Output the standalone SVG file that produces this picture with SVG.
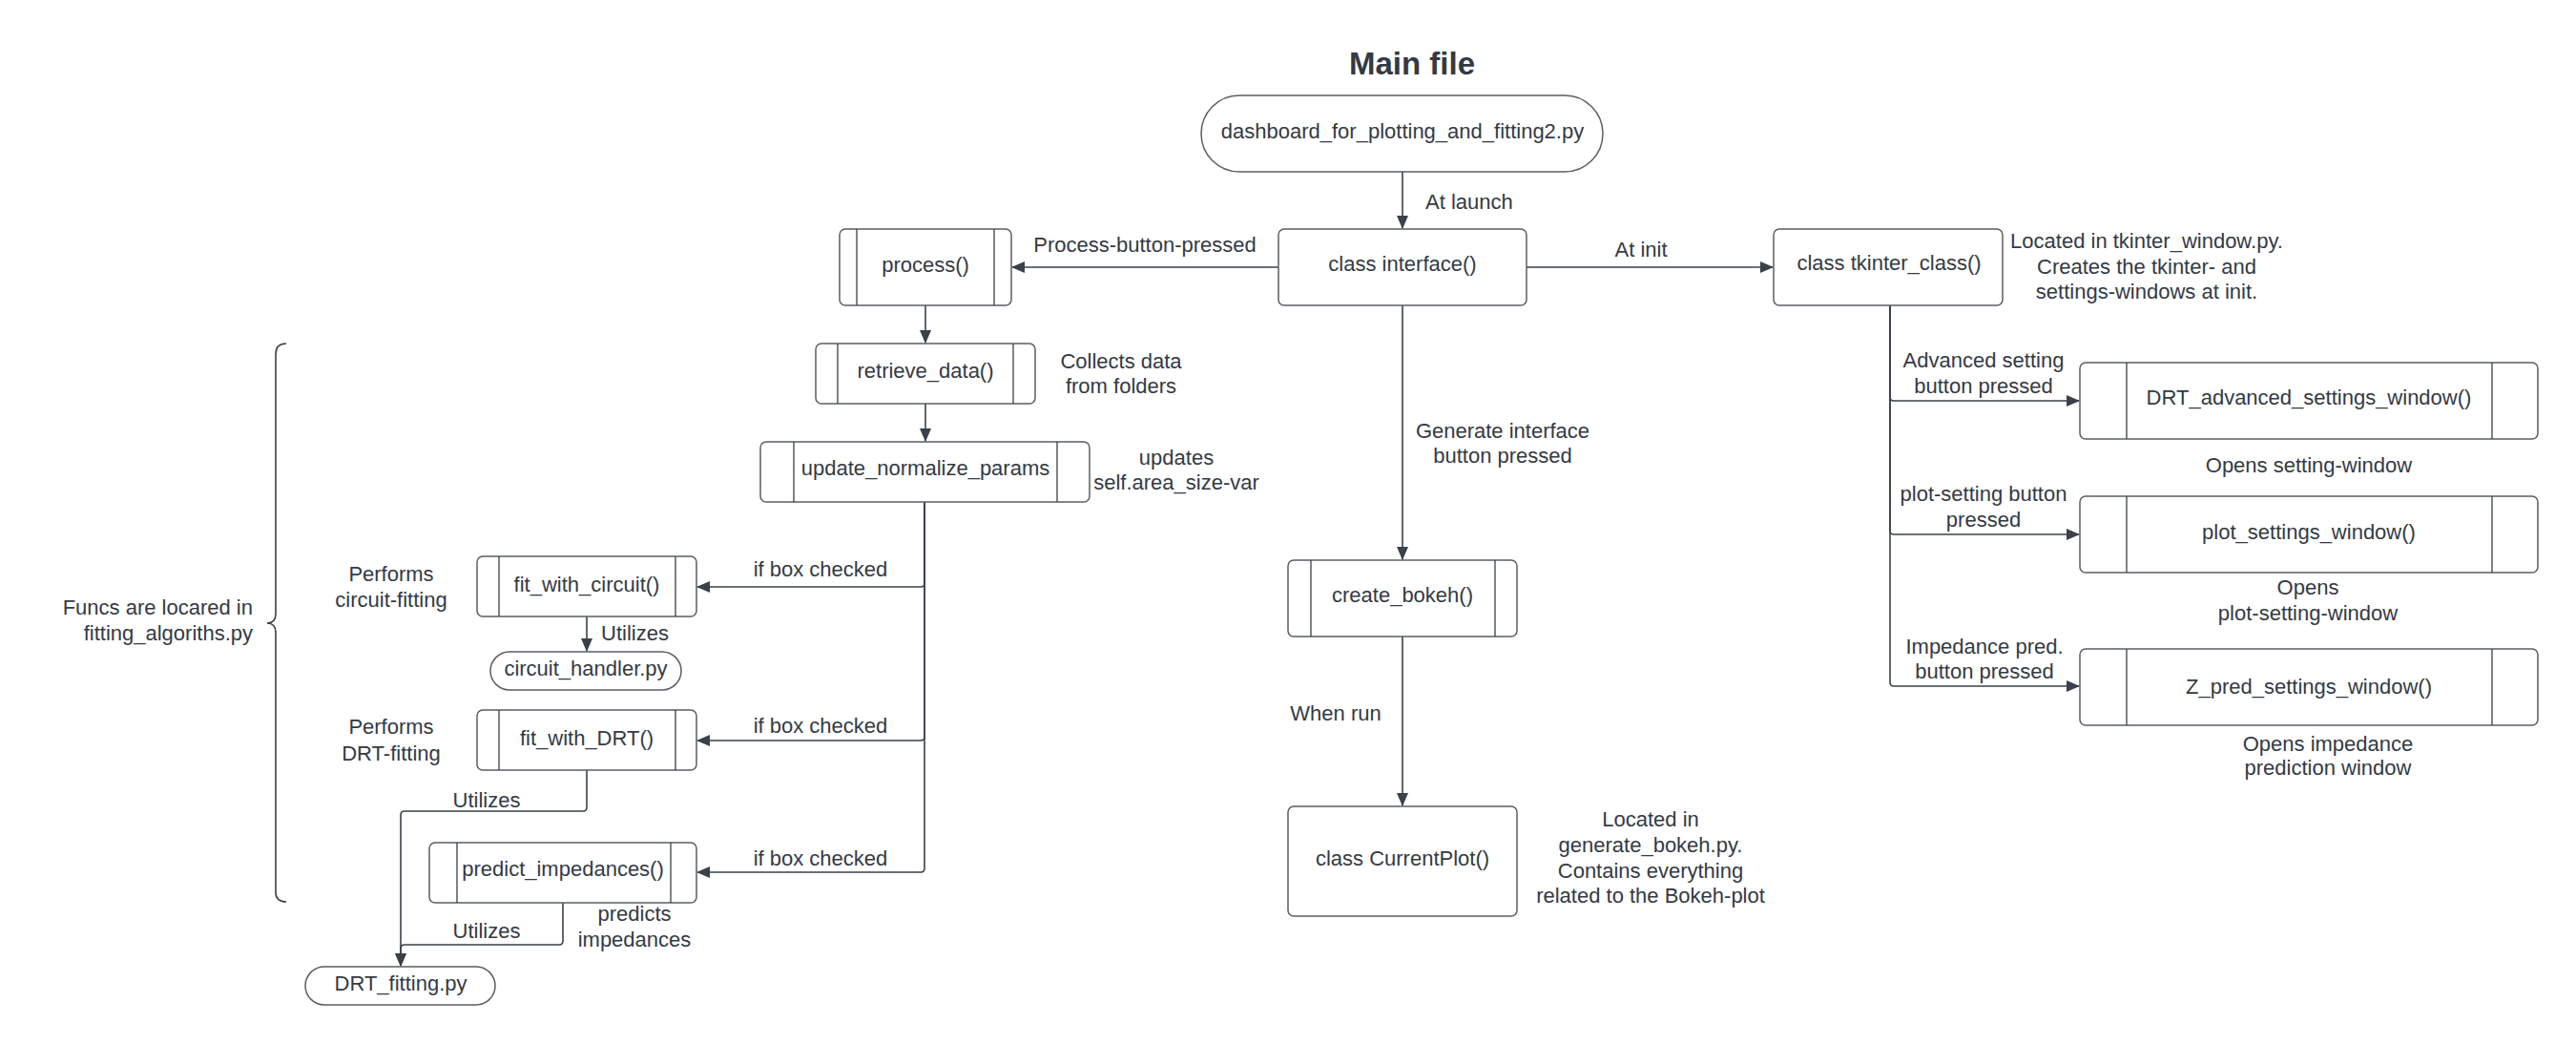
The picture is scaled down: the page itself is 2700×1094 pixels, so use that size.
<svg xmlns="http://www.w3.org/2000/svg" width="2700" height="1094" viewBox="0 0 2700 1094">
<style>
  text { font-family: "Liberation Sans", Arial, sans-serif; font-size: 22px; fill: #333a44; }
  .c { text-anchor: middle; }
  .r { text-anchor: end; }
  .title { font-size: 33px; font-weight: bold; }
  .box { fill: #ffffff; stroke: #5a5f66; stroke-width: 1.5; }
  .in { stroke: #3a414a; stroke-width: 1.3; fill: none; }
  .con { fill: none; stroke: #3a414a; stroke-width: 1.6; }
</style>
<defs>
  <marker id="ah" markerUnits="userSpaceOnUse" markerWidth="14" markerHeight="12" refX="13" refY="6" orient="auto">
    <path d="M0,0 L14,6 L0,12 z" fill="#3a414a"/>
  </marker>
</defs>
<rect width="2700" height="1094" fill="#ffffff"/>

<text class="title c" x="1480" y="78">Main file</text>

<g id="connectors">
  <path class="con" d="M1470 180 V239" marker-end="url(#ah)"/>
  <path class="con" d="M1340 280 H1061" marker-end="url(#ah)"/>
  <path class="con" d="M1600 280 H1858" marker-end="url(#ah)"/>
  <path class="con" d="M1470 320 V586" marker-end="url(#ah)"/>
  <path class="con" d="M1470 667 V844" marker-end="url(#ah)"/>
  <path class="con" d="M970 320 V359" marker-end="url(#ah)"/>
  <path class="con" d="M970 423 V462" marker-end="url(#ah)"/>
  <path class="con" d="M969 526 V611 Q969 615 965 615 H731" marker-end="url(#ah)"/>
  <path class="con" d="M969 526 V772 Q969 776 965 776 H731" marker-end="url(#ah)"/>
  <path class="con" d="M969 526 V910 Q969 914 965 914 H731" marker-end="url(#ah)"/>
  <path class="con" d="M615 646 V682" marker-end="url(#ah)"/>
  <path class="con" d="M615 807 V846 Q615 850 611 850 H424 Q420 850 420 854 V1012" marker-end="url(#ah)"/>
  <path class="con" d="M590 946 V986 Q590 990 586 990 H424 Q420 990 420 994 V1012" marker-end="url(#ah)"/>
  <path class="con" d="M1981 320 V416 Q1981 420 1985 420 H2179" marker-end="url(#ah)"/>
  <path class="con" d="M1981 320 V556 Q1981 560 1985 560 H2179" marker-end="url(#ah)"/>
  <path class="con" d="M1981 320 V715 Q1981 719 1985 719 H2179" marker-end="url(#ah)"/>
  <path class="con" d="M300 360 Q289 360 289 371 V643 Q289 653 280 653 Q289 653 289 663 V935 Q289 945 300 945" stroke="#5a5f66"/>
</g>

<g id="edge-labels">
  <text x="1494" y="219">At launch</text>
  <text class="c" x="1200" y="264">Process-button-pressed</text>
  <text class="c" x="1720" y="269">At init</text>
  <text class="c" x="1575" y="459">Generate interface</text>
  <text class="c" x="1575" y="485">button pressed</text>
  <text class="c" x="1400" y="755">When run</text>
  <text class="c" x="860" y="604">if box checked</text>
  <text class="c" x="860" y="768">if box checked</text>
  <text class="c" x="860" y="907">if box checked</text>
  <text x="630" y="671">Utilizes</text>
  <text class="c" x="510" y="846">Utilizes</text>
  <text class="c" x="510" y="983">Utilizes</text>
  <text class="c" x="2079" y="385">Advanced setting</text>
  <text class="c" x="2079" y="412">button pressed</text>
  <text class="c" x="2079" y="525">plot-setting button</text>
  <text class="c" x="2079" y="552">pressed</text>
  <text class="c" x="2080" y="685">Impedance pred.</text>
  <text class="c" x="2080" y="711">button pressed</text>
</g>

<g id="annotations">
  <text class="c" x="1175" y="386">Collects data</text>
  <text class="c" x="1175" y="412">from folders</text>
  <text class="c" x="1233" y="487">updates</text>
  <text class="c" x="1233" y="513">self.area_size-var</text>
  <text class="c" x="2250" y="260">Located in tkinter_window.py.</text>
  <text class="c" x="2250" y="287">Creates the tkinter- and</text>
  <text class="c" x="2250" y="313">settings-windows at init.</text>
  <text class="c" x="410" y="609">Performs</text>
  <text class="c" x="410" y="636">circuit-fitting</text>
  <text class="c" x="410" y="769">Performs</text>
  <text class="c" x="410" y="797">DRT-fitting</text>
  <text class="c" x="665" y="965">predicts</text>
  <text class="c" x="665" y="992">impedances</text>
  <text class="r" x="265" y="644">Funcs are locared in</text>
  <text class="r" x="265" y="671">fitting_algoriths.py</text>
  <text class="c" x="1730" y="866">Located in</text>
  <text class="c" x="1730" y="893">generate_bokeh.py.</text>
  <text class="c" x="1730" y="920">Contains everything</text>
  <text class="c" x="1730" y="946">related to the Bokeh-plot</text>
  <text class="c" x="2420" y="495">Opens setting-window</text>
  <text class="c" x="2419" y="623">Opens</text>
  <text class="c" x="2419" y="650">plot-setting-window</text>
  <text class="c" x="2440" y="787">Opens impedance</text>
  <text class="c" x="2440" y="812">prediction window</text>
</g>

<g id="dashboard">
  <rect class="box" x="1259" y="100" width="421" height="80" rx="40"/>
  <text class="c" x="1470" y="145">dashboard_for_plotting_and_fitting2.py</text>
</g>
<g id="interface">
  <rect class="box" x="1340" y="240" width="260" height="80" rx="6"/>
  <text class="c" x="1470" y="284">class interface()</text>
</g>
<g id="process">
  <rect class="box" x="880" y="240" width="180" height="80" rx="6"/>
  <path class="in" d="M898 240 V320 M1042 240 V320"/>
  <text class="c" x="970" y="285">process()</text>
</g>
<g id="tkinter_class">
  <rect class="box" x="1859" y="240" width="240" height="80" rx="6"/>
  <text class="c" x="1980" y="283">class tkinter_class()</text>
</g>
<g id="retrieve_data">
  <rect class="box" x="855" y="360" width="230" height="63" rx="6"/>
  <path class="in" d="M878 360 V423 M1062 360 V423"/>
  <text class="c" x="970" y="396">retrieve_data()</text>
</g>
<g id="update_normalize_params">
  <rect class="box" x="797" y="463" width="345" height="63" rx="6"/>
  <path class="in" d="M832 463 V526 M1108 463 V526"/>
  <text class="c" x="970" y="498">update_normalize_params</text>
</g>
<g id="fit_with_circuit">
  <rect class="box" x="500" y="583" width="230" height="63" rx="6"/>
  <path class="in" d="M523 583 V646 M708 583 V646"/>
  <text class="c" x="615" y="620">fit_with_circuit()</text>
</g>
<g id="circuit_handler">
  <rect class="box" x="514" y="683" width="200" height="40" rx="20"/>
  <text class="c" x="614" y="708">circuit_handler.py</text>
</g>
<g id="fit_with_DRT">
  <rect class="box" x="500" y="744" width="230" height="63" rx="6"/>
  <path class="in" d="M523 744 V807 M708 744 V807"/>
  <text class="c" x="615" y="781">fit_with_DRT()</text>
</g>
<g id="predict_impedances">
  <rect class="box" x="450" y="883" width="280" height="63" rx="6"/>
  <path class="in" d="M479 883 V946 M703 883 V946"/>
  <text class="c" x="590" y="918">predict_impedances()</text>
</g>
<g id="DRT_fitting">
  <rect class="box" x="320" y="1013" width="199" height="40" rx="20"/>
  <text class="c" x="420" y="1038">DRT_fitting.py</text>
</g>
<g id="create_bokeh">
  <rect class="box" x="1350" y="587" width="240" height="80" rx="6"/>
  <path class="in" d="M1374 587 V667 M1567 587 V667"/>
  <text class="c" x="1470" y="631">create_bokeh()</text>
</g>
<g id="CurrentPlot">
  <rect class="box" x="1350" y="845" width="240" height="115" rx="6"/>
  <text class="c" x="1470" y="907">class CurrentPlot()</text>
</g>
<g id="DRT_advanced_settings_window">
  <rect class="box" x="2180" y="380" width="480" height="80" rx="6"/>
  <path class="in" d="M2229 380 V460 M2612 380 V460"/>
  <text class="c" x="2420" y="424">DRT_advanced_settings_window()</text>
</g>
<g id="plot_settings_window">
  <rect class="box" x="2180" y="520" width="480" height="80" rx="6"/>
  <path class="in" d="M2229 520 V600 M2612 520 V600"/>
  <text class="c" x="2420" y="565">plot_settings_window()</text>
</g>
<g id="Z_pred_settings_window">
  <rect class="box" x="2180" y="680" width="480" height="80" rx="6"/>
  <path class="in" d="M2229 680 V760 M2612 680 V760"/>
  <text class="c" x="2420" y="727">Z_pred_settings_window()</text>
</g>
</svg>
